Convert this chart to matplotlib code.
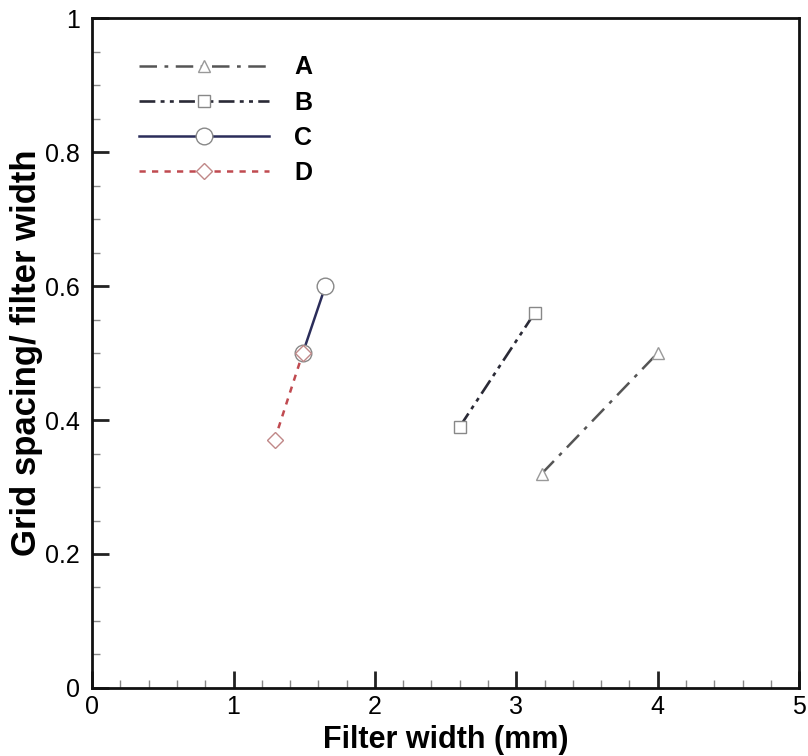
import matplotlib
matplotlib.use("Agg")
import matplotlib.pyplot as plt
from matplotlib.ticker import MultipleLocator

plt.rcParams['font.family'] = ['Liberation Sans', 'DejaVu Sans']

# Filter width (mm) vs grid spacing / filter width
a_x = [3.18, 4.0]
a_y = [0.32, 0.50]
b_x = [2.60, 3.13]
b_y = [0.39, 0.56]
c_x = [1.49, 1.65]
c_y = [0.50, 0.60]
d_x = [1.29, 1.49]
d_y = [0.37, 0.50]

x_ticks = [0, 1, 2, 3, 4, 5]
x_labels = ['0', '1', '2', '3', '4', '5']
y_ticks = [0, 0.2, 0.4, 0.6, 0.8, 1]
y_labels = ['0', '0.2', '0.4', '0.6', '0.8', '1']

fig = plt.figure(figsize=(8.08, 7.56), dpi=100)
ax = fig.add_axes([0.114, 0.090, 0.875, 0.886])

ax.plot(a_x, a_y, color='#555555', lw=1.8, linestyle=(0, (7, 3, 1.5, 3)),
        marker='^', ms=9, mfc='white', mec='#999999', mew=1.0, label='A')
ax.plot(b_x, b_y, color='#2a2a36', lw=1.9, linestyle=(0, (6, 2, 1.5, 2, 1.5, 2)),
        marker='s', ms=9, mfc='white', mec='#888888', mew=1.0, label='B')
ax.plot(c_x, c_y, color='#2b2d5a', lw=1.8, linestyle='-',
        marker='o', ms=12, mfc='white', mec='#888888', mew=1.0, label='C')
ax.plot(d_x, d_y, color='#c04a50', lw=1.8, linestyle=(0, (2.5, 2.5)),
        marker='D', ms=8, mfc='white', mec='#c08888', mew=1.0, label='D')

ax.set_xlim(0, 5)
ax.set_ylim(0, 1)
ax.set_xticks(x_ticks)
ax.set_xticklabels(x_labels)
ax.set_yticks(y_ticks)
ax.set_yticklabels(y_labels)
ax.xaxis.set_minor_locator(MultipleLocator(0.2))
ax.yaxis.set_minor_locator(MultipleLocator(0.05))
ax.tick_params(which='both', direction='in', top=False, right=False,
               labelsize=18, color='#222222')
ax.tick_params(which='major', length=12, width=2)
ax.tick_params(which='minor', length=6, width=1, color='#888888')
ax.tick_params(axis='x', pad=5)
ax.tick_params(axis='y', pad=9)
for s in ax.spines.values():
    s.set_linewidth(2)
    s.set_color('#111111')

ax.set_xlabel('Filter width (mm)', fontsize=22, fontweight='bold', va='bottom')
ax.xaxis.set_label_coords(0.5, -0.1)
ax.set_ylabel('Grid spacing/ filter width', fontsize=25, fontweight='bold', labelpad=1)

leg = ax.legend(loc='upper left', bbox_to_anchor=(0.035, 0.978), frameon=False,
                handlelength=5.2, handletextpad=1.0, labelspacing=0.45,
                numpoints=1, prop={'size': 18, 'weight': 'bold'})

fig.savefig('out.png', dpi=100)
